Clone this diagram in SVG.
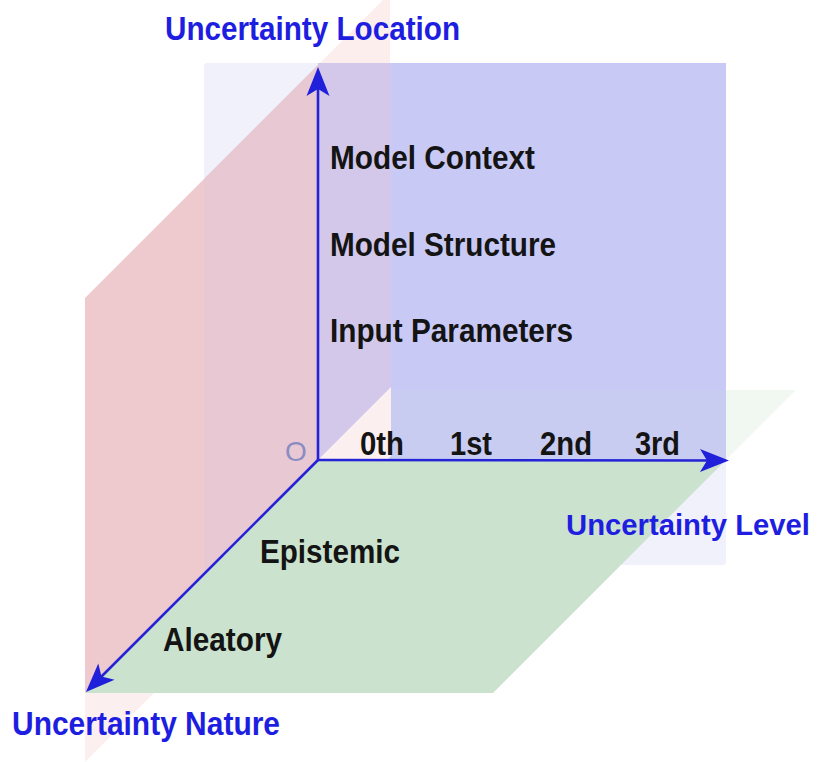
<svg xmlns="http://www.w3.org/2000/svg" width="824" height="762" viewBox="0 0 824 762">
  <style>
    .lbl { font-family: "Liberation Sans", Arial, sans-serif; font-size: 33px; font-weight: bold; }
    .axisname { fill: #1E1EE0; }
    .item { fill: #141414; }
    .origin { font-family: "Liberation Sans", Arial, sans-serif; font-size: 28px; fill: #8C8CC4; }
    .axis { stroke: #2424D6; stroke-width: 2.6; fill: none; marker-end: url(#arrow); }
  </style>
  <defs>
    <marker id="arrow" markerUnits="userSpaceOnUse" viewBox="-20 -12 31 24" refX="0" refY="0" markerWidth="31" markerHeight="24" orient="auto">
      <path d="M10,0 L-19,-11.5 L-12,0 L-19,11.5 Z" fill="#2020DA"/>
    </marker>
  </defs>
  <rect x="0" y="0" width="824" height="762" fill="#FFFFFF"/>

  <g id="plane-location-level">
    <rect x="204" y="63" width="522" height="502" rx="3" fill="#F1F1FC"/>
  </g>
  <g id="plane-location-nature-back">
    <polygon points="318,65 390,-7 390,63 318,63" fill="#FCEEEC"/>
  </g>
  <g id="plane-level-nature-back">
    <polygon points="726,390 796,390 726,460" fill="#F1F7F1"/>
  </g>
  <g id="plane-location-level-front">
    <rect x="318" y="63" width="408" height="397" fill="#C9C9F6"/>
    <polygon points="318,460 388,390 726,390 726,460" fill="#C9CCF1"/>
    <polygon points="318,63 391,63 391,387 318,460" fill="#D3C8EA"/>
  </g>
  <g id="plane-location-nature">
    <polygon points="85,693 391,387 391,456 85,762" fill="#FCEFEF"/>
    <polygon points="85,298 318,65 318,460 85,693" fill="#EEC9CD"/>
    <polygon points="204,179 318,65 318,460 204,574" fill="#E8C9D3"/>
  </g>
  <g id="plane-level-nature">
    <polygon points="318,460 726,460 493,693 85,693" fill="#CBE2CE"/>
  </g>

  <g id="axes">
    <line class="axis" x1="318" y1="460" x2="318" y2="77"/>
    <line class="axis" x1="318" y1="460" x2="719" y2="460.5"/>
    <line class="axis" x1="318" y1="460" x2="93" y2="685"/>
  </g>

  <g id="label-location"><text class="lbl axisname" x="165" y="40" textLength="295" lengthAdjust="spacingAndGlyphs">Uncertainty Location</text></g>
  <g id="label-level"><text class="lbl axisname" x="566" y="535" style="font-size:29px" textLength="244" lengthAdjust="spacingAndGlyphs">Uncertainty Level</text></g>
  <g id="label-nature"><text class="lbl axisname" x="12" y="735" textLength="268" lengthAdjust="spacingAndGlyphs">Uncertainty Nature</text></g>
  <g id="label-origin"><text class="origin" x="285" y="461">O</text></g>

  <g id="loc-model-context"><text class="lbl item" x="330" y="169" textLength="205" lengthAdjust="spacingAndGlyphs">Model Context</text></g>
  <g id="loc-model-structure"><text class="lbl item" x="330" y="256" textLength="226" lengthAdjust="spacingAndGlyphs">Model Structure</text></g>
  <g id="loc-input-parameters"><text class="lbl item" x="330" y="342" textLength="243" lengthAdjust="spacingAndGlyphs">Input Parameters</text></g>

  <g id="lvl-0th"><text class="lbl item" x="360" y="455" textLength="44" lengthAdjust="spacingAndGlyphs">0th</text></g>
  <g id="lvl-1st"><text class="lbl item" x="450" y="455" textLength="42" lengthAdjust="spacingAndGlyphs">1st</text></g>
  <g id="lvl-2nd"><text class="lbl item" x="540" y="455" textLength="52" lengthAdjust="spacingAndGlyphs">2nd</text></g>
  <g id="lvl-3rd"><text class="lbl item" x="635" y="455" textLength="45" lengthAdjust="spacingAndGlyphs">3rd</text></g>

  <g id="nat-epistemic"><text class="lbl item" x="260" y="563" textLength="140" lengthAdjust="spacingAndGlyphs">Epistemic</text></g>
  <g id="nat-aleatory"><text class="lbl item" x="163" y="651" textLength="119" lengthAdjust="spacingAndGlyphs">Aleatory</text></g>
</svg>
